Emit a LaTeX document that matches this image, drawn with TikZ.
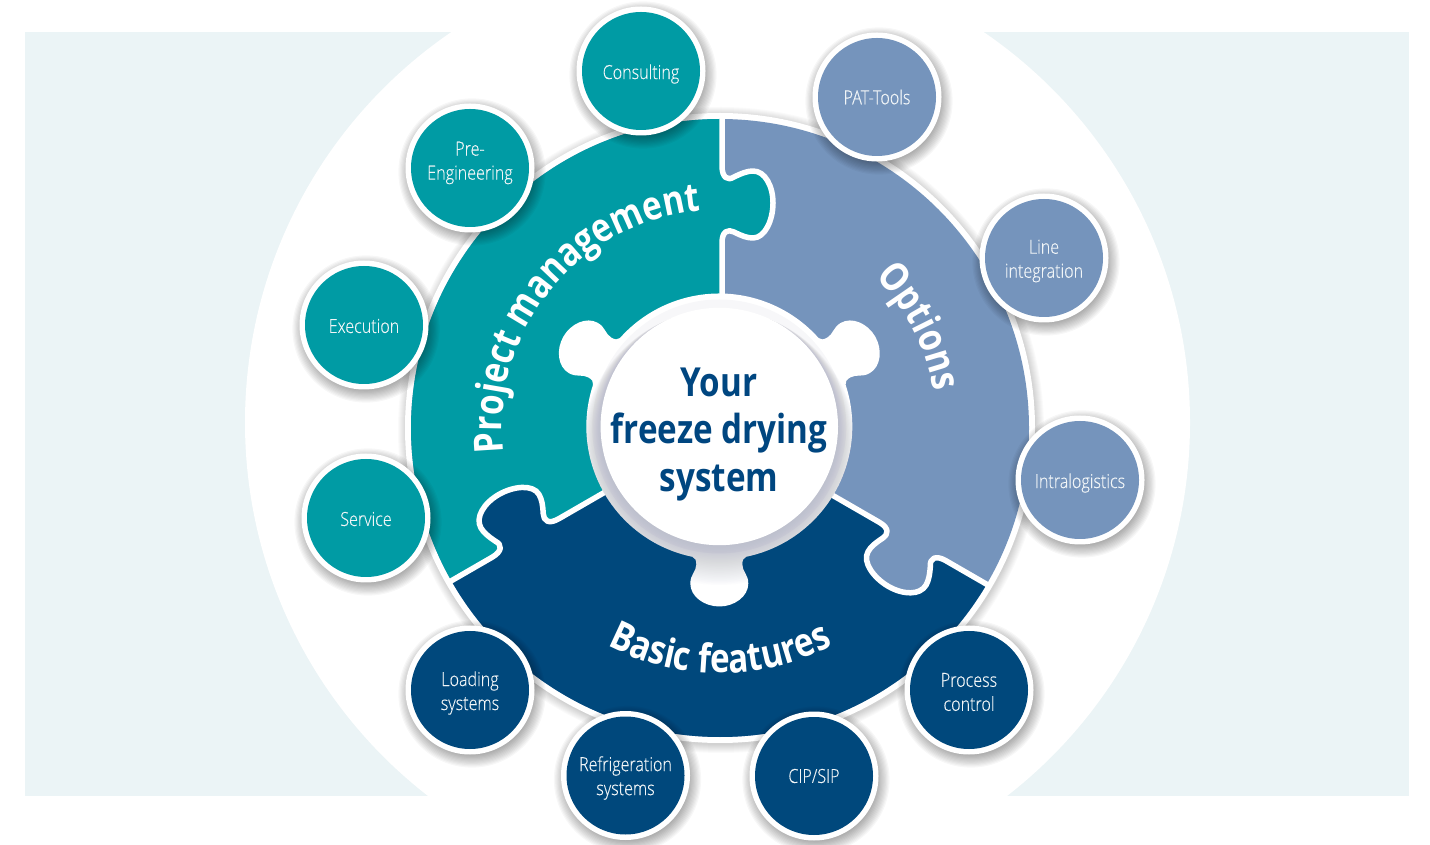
\documentclass[tikz,border=0pt]{standalone}
\usepackage{fontspec}
\setmainfont{Open Sans}[FakeStretch=0.83,UprightFont=* Light,FakeBold=0.25]
\newfontfamily\headfont{Open Sans}[FakeStretch=0.83]
\usetikzlibrary{decorations.text}
\definecolor{bgpale}{HTML}{EBF4F6}
\definecolor{tealc}{HTML}{009BA4}
\definecolor{bluec}{HTML}{7594BC}
\definecolor{darkc}{HTML}{00487C}
\definecolor{titlec}{HTML}{004680}
\definecolor{shadowc}{HTML}{8E92AA}
\definecolor{sattextc}{HTML}{F2F6F8}
\def\tabcurve{(2,262) .. controls (2,250) and (8,247) .. (14,251) .. controls (22,255) and (28,257) .. (33,257) .. controls (45,257) and (53,242) .. (53,225) .. controls (53,208) and (45,190) .. (33,190) .. controls (27,190) and (22,192) .. (14,196) .. controls (8,199) and (2,197) .. (2,185)}
\def\hubpiece{(-27,-130.2) .. controls (-24,-131) and (-23,-134) .. (-23,-138) .. controls (-23,-145) and (-29,-148) .. (-29,-157) .. controls (-29,-170) and (-15,-180) .. (0,-180) .. controls (15,-180) and (29,-170) .. (29,-157) .. controls (29,-148) and (23,-145) .. (23,-138) .. controls (23,-134) and (24,-131) .. (27,-130.2) arc[start angle=-78.3,end angle=18.3,radius=133]}
\def\huboutline{{[rotate=0] \hubpiece} {[rotate=120] -- \hubpiece} {[rotate=240] -- \hubpiece} -- cycle}
\tikzset{
  x=1pt,y=1pt,
  sattext/.style={text=sattextc,align=center,inner sep=0pt,font=\fontsize{19.4}{24}\selectfont},
  titletext/.style={text=titlec,align=center,inner sep=0pt,font=\headfont\bfseries\fontsize{40}{47.5}\selectfont},
  seamline/.style={draw=white,line width=5.5pt,line join=round}
}
\newcommand{\satnode}[6]{%
  \foreach \i in {1,...,13}{\fill[black,opacity=0.03] (#2+2,#3-4) circle[radius=58+1.2*\i];}
  \fill[white] (#2,#3) circle[radius=64.5];
  \fill[#4] (#2,#3) circle[radius=59];
  \node[sattext] (#1) at (#2,#3+#6) {#5};
}
\begin{document}
\begin{tikzpicture}
\useasboundingbox (0,0) rectangle (1430,844);
\fill[white] (0,0) rectangle (1430,844);
\fill[bgpale] (25,48) rectangle (1409,812);
\fill[white] (717.5,421.5) circle[radius=472.5];
\begin{scope}[shift={(720,416)}]
  \foreach \i in {1,...,9}{\fill[black,opacity=0.018] (1,-2) circle[radius=314+\i];}
  \fill[white] (0,0) circle[radius=315];
  \begin{scope}
    \clip (0,0) circle[radius=309];
    \fill[bluec] (-400,-400) rectangle (400,400);
    \fill[tealc] (2,0) -- (2,600) -- (-600,600) -- (-600,-298.3) -- (-520.6,-298.3) -- (-1,1.7) -- cycle;
    \fill[darkc] (-1,1.7) -- (-520.6,-298.3) -- (-520.6,-700) -- (518.6,-700) -- (518.6,-301.7) -- (-1,-1.73) -- cycle;
  \end{scope}
  \fill[tealc] (-4,262) -- \tabcurve -- (-4,185) -- cycle;
  \begin{scope}[rotate=120] \fill[darkc] (-4,262) -- \tabcurve -- (-4,185) -- cycle; \end{scope}
  \begin{scope}[rotate=240] \fill[bluec] (-4,262) -- \tabcurve -- (-4,185) -- cycle; \end{scope}
  \foreach \a in {0,120,240}{
    \begin{scope}[rotate=\a]
      \draw[seamline] (2,311) -- \tabcurve -- (2,120);
    \end{scope}
  }
  \path[decorate,decoration={text along path,text align=center,text color=white,
    text={|\headfont\bfseries\fontsize{40}{40}\selectfont|Project management}}]
    (188.7:218) arc[start angle=188.7,end angle=92.7,radius=218];
  \path[decorate,decoration={text along path,text align=center,text color=white,
    text={|\headfont\bfseries\fontsize{40}{40}\selectfont|Options}}]
    (46:217) arc[start angle=46,end angle=8,radius=217];
  \path[decorate,decoration={text along path,text align=center,text color=white,
    text={|\headfont\bfseries\fontsize{40}{40}\selectfont|Basic features}}]
    (238:245) arc[start angle=238,end angle=302,radius=245];
\end{scope}
% hub
\begin{scope}[shift={(719.3,417.5)}]
  \fill[white] \huboutline;
  \begin{scope}
    \clip \huboutline;
    \fill[shadowc,opacity=0.07] (0,0) circle[radius=127];
    \foreach \i in {1,...,30}{\fill[shadowc,opacity=0.02] (0,-0.7*\i) circle[radius=118+0.65*\i];}
  \end{scope}
  \fill[white] (0,0) circle[radius=118.7];
\end{scope}
\node[titletext] (title) at (719,409.5) {Your\\freeze drying\\system};
% satellites
\satnode{consult}{641}{773}{tealc}{Consulting}{-3}
\satnode{preeng}{470}{676}{tealc}{Pre-\\Engineering}{5}
\satnode{exec}{364}{519}{tealc}{Execution}{-1}
\satnode{serv}{366}{326}{tealc}{Service}{-1}
\satnode{pat}{877}{747}{bluec}{PAT-Tools}{0}
\satnode{line}{1044}{586}{bluec}{Line\\integration}{-3}
\satnode{intra}{1080}{364}{bluec}{Intralogistics}{-3}
\satnode{process}{969}{154}{darkc}{Process\\control}{-2}
\satnode{cip}{814}{68}{darkc}{CIP/SIP}{0}
\satnode{refrig}{625.5}{68.5}{darkc}{Refrigeration\\systems}{-2.5}
\satnode{load}{470}{154}{darkc}{Loading\\systems}{-3}
\end{tikzpicture}
\end{document}
